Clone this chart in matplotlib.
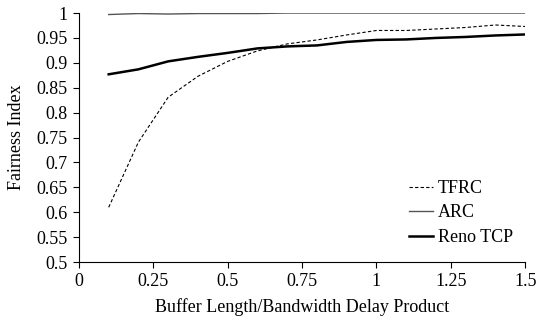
import matplotlib
matplotlib.use('Agg')
import matplotlib.pyplot as plt

plt.rcParams['font.family'] = ['Liberation Serif', 'DejaVu Serif']

x = [0.1, 0.2, 0.3, 0.4, 0.5, 0.6, 0.7, 0.8, 0.9, 1.0, 1.1, 1.2, 1.3, 1.4, 1.5]
tfrc = [0.61, 0.741, 0.831, 0.873, 0.903, 0.924, 0.938, 0.946, 0.956, 0.965, 0.965, 0.968, 0.971, 0.976, 0.973]
arc = [0.997, 0.999, 0.998, 0.999, 0.999, 0.999, 1.0, 1.0, 1.0, 1.0, 1.0, 1.0, 1.0, 1.0, 1.0]
reno = [0.877, 0.887, 0.903, 0.912, 0.920, 0.929, 0.933, 0.935, 0.942, 0.946, 0.947, 0.950, 0.952, 0.955, 0.957]

fig = plt.figure(figsize=(5.37, 3.26), dpi=100)
ax = fig.add_axes([0.147, 0.196, 0.831, 0.764])
ax.plot(x, tfrc, color='black', lw=0.8, ls=(0, (3, 2)), label='TFRC')
ax.plot(x, arc, color='#555555', lw=1.0, label='ARC')
ax.plot(x, reno, color='black', lw=1.8, label='Reno TCP')

ax.set_xlim(0, 1.5)
ax.set_ylim(0.5, 1.0)
ax.set_xticks([0, 0.25, 0.5, 0.75, 1, 1.25, 1.5], ['0', '0.25', '0.5', '0.75', '1', '1.25', '1.5'])
ax.set_yticks([0.5, 0.55, 0.6, 0.65, 0.7, 0.75, 0.8, 0.85, 0.9, 0.95, 1.0],
              ['0.5', '0.55', '0.6', '0.65', '0.7', '0.75', '0.8', '0.85', '0.9', '0.95', '1'])
ax.spines['top'].set_visible(False)
ax.spines['right'].set_visible(False)
ax.tick_params(direction='out', length=4, labelsize=13, pad=4)
ax.set_xlabel('Buffer Length/Bandwidth Delay Product', fontsize=13, labelpad=6)
ax.set_ylabel('Fairness Index', fontsize=13, labelpad=8)
ax.legend(loc='upper left', bbox_to_anchor=(0.74, 0.33), frameon=False, fontsize=13,
          handlelength=1.3, handletextpad=0.3, labelspacing=0.42, borderaxespad=0, borderpad=0)

fig.savefig('out.png', dpi=100)
